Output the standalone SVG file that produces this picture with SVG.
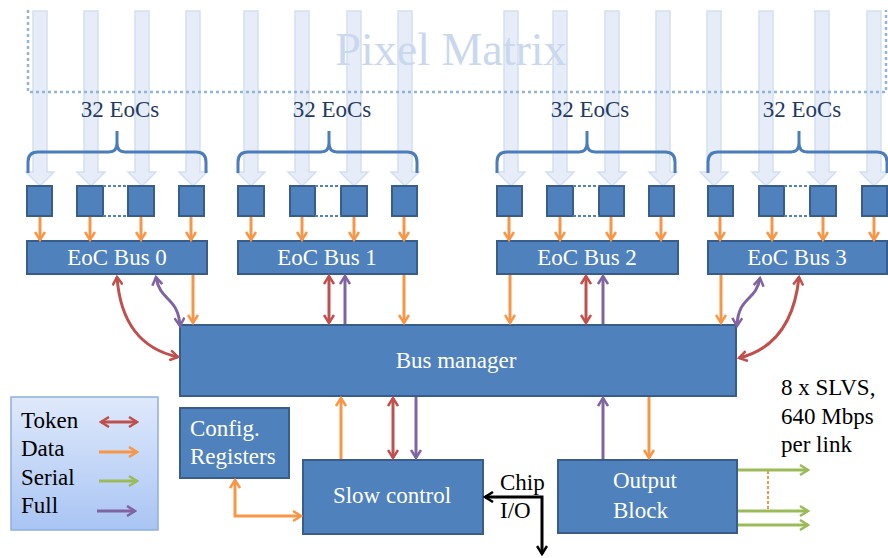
<svg xmlns="http://www.w3.org/2000/svg" width="888" height="558" viewBox="0 0 888 558">
<defs>
<style>
.box{fill:#4f81bd;stroke:#385d8a;stroke-width:2}
.wt{font-family:"Liberation Serif",serif;font-size:23px;fill:#ffffff}
.bt{font-family:"Liberation Serif",serif;font-size:23px;fill:#000000}
.nt{font-family:"Liberation Serif",serif;font-size:23px;fill:#1f3b63}
.col{fill:#e6edf8;stroke:#d3dff0;stroke-width:1.5}
.brace{fill:none;stroke:#4a7dba;stroke-width:3}
.dot{fill:none;stroke:#4f81bd;stroke-width:2;stroke-dasharray:3 2}
.o{fill:none;stroke:#f79646;stroke-width:3}
.r{fill:none;stroke:#c0504d;stroke-width:3}
.p{fill:none;stroke:#8064a2;stroke-width:3}
.g{fill:none;stroke:#9bbb59;stroke-width:3}
.k{fill:none;stroke:#000000;stroke-width:3}
.oa{marker-end:url(#mo)}
</style>
<linearGradient id="lg" x1="0" y1="0" x2="0" y2="1">
<stop offset="0" stop-color="#dfe9fb"/>
<stop offset="1" stop-color="#a9c5f4"/>
</linearGradient>
<path id="colA" d="M-7,11 H7 V172 H14 L0,186 L-14,172 H-7 Z"/>
<marker id="mo" viewBox="0 0 12 12" refX="10" refY="6" markerWidth="12" markerHeight="12" orient="auto-start-reverse" markerUnits="userSpaceOnUse"><path d="M2,1 L10,6 L2,11" fill="none" stroke="#f79646" stroke-width="2.5"/></marker>
<marker id="mr" viewBox="0 0 12 12" refX="10" refY="6" markerWidth="12" markerHeight="12" orient="auto-start-reverse" markerUnits="userSpaceOnUse"><path d="M2,1 L10,6 L2,11" fill="none" stroke="#c0504d" stroke-width="2.5"/></marker>
<marker id="mp" viewBox="0 0 12 12" refX="10" refY="6" markerWidth="12" markerHeight="12" orient="auto-start-reverse" markerUnits="userSpaceOnUse"><path d="M2,1 L10,6 L2,11" fill="none" stroke="#8064a2" stroke-width="2.5"/></marker>
<marker id="mg" viewBox="0 0 12 12" refX="10" refY="6" markerWidth="12" markerHeight="12" orient="auto-start-reverse" markerUnits="userSpaceOnUse"><path d="M2,1 L10,6 L2,11" fill="none" stroke="#9bbb59" stroke-width="2.5"/></marker>
<marker id="mk" viewBox="0 0 12 12" refX="10" refY="6" markerWidth="12" markerHeight="12" orient="auto-start-reverse" markerUnits="userSpaceOnUse"><path d="M2,1 L10,6 L2,11" fill="none" stroke="#000000" stroke-width="2.5"/></marker>
</defs>

<g id="pixel-matrix">
<g class="col">
<use href="#colA" x="40"/><use href="#colA" x="91"/><use href="#colA" x="142"/><use href="#colA" x="193"/>
<use href="#colA" x="251"/><use href="#colA" x="302"/><use href="#colA" x="354"/><use href="#colA" x="405"/>
<use href="#colA" x="511"/><use href="#colA" x="560"/><use href="#colA" x="612"/><use href="#colA" x="663"/>
<use href="#colA" x="714"/><use href="#colA" x="766"/><use href="#colA" x="822"/><use href="#colA" x="874"/>
</g>
<path d="M28,10 V92 H886 V10" fill="none" stroke="#95b3d7" stroke-width="2.5" stroke-dasharray="3 3"/>
<text x="451" y="65" text-anchor="middle" font-family="Liberation Serif, serif" font-size="46" fill="#c9d8ee">Pixel Matrix</text>
</g>

<g id="braces">
<path class="brace" d="M28,173 V162 Q28,152 38,152 H109 Q117,152 117,143 V131 M117,143 Q117,152 125,152 H196 Q206,152 206,162 V173"/>
<path class="brace" d="M238,173 V162 Q238,152 248,152 H321 Q329,152 329,143 V131 M329,143 Q329,152 337,152 H407 Q417,152 417,162 V173"/>
<path class="brace" d="M497,173 V162 Q497,152 507,152 H579 Q587,152 587,143 V131 M587,143 Q587,152 595,152 H665 Q675,152 675,162 V173"/>
<path class="brace" d="M708,173 V162 Q708,152 718,152 H791 Q799,152 799,143 V131 M799,143 Q799,152 807,152 H877 Q887,152 887,162 V173"/>
<text class="nt" x="120" y="117" text-anchor="middle">32 EoCs</text>
<text class="nt" x="332" y="117" text-anchor="middle">32 EoCs</text>
<text class="nt" x="590" y="117" text-anchor="middle">32 EoCs</text>
<text class="nt" x="802" y="117" text-anchor="middle">32 EoCs</text>
</g>

<g id="eoc-cells">
<rect class="box" x="27" y="186" width="25" height="30"/>
<rect class="box" x="77" y="186" width="26" height="30"/>
<rect class="box" x="128" y="186" width="26" height="30"/>
<rect class="box" x="179" y="186" width="25" height="30"/>
<path class="dot" d="M103,186 H128 M103,216 H128"/>
<rect class="box" x="238" y="186" width="26" height="30"/>
<rect class="box" x="290" y="186" width="25" height="30"/>
<rect class="box" x="341" y="186" width="26" height="30"/>
<rect class="box" x="392" y="186" width="25" height="30"/>
<path class="dot" d="M315,186 H341 M315,216 H341"/>
<rect class="box" x="497" y="186" width="25" height="30"/>
<rect class="box" x="547" y="186" width="26" height="30"/>
<rect class="box" x="599" y="186" width="25" height="30"/>
<rect class="box" x="649" y="186" width="25" height="30"/>
<path class="dot" d="M573,186 H599 M573,216 H599"/>
<rect class="box" x="708" y="186" width="25" height="30"/>
<rect class="box" x="759" y="186" width="25" height="30"/>
<rect class="box" x="810" y="186" width="26" height="30"/>
<rect class="box" x="862" y="186" width="25" height="30"/>
<path class="dot" d="M784,186 H810 M784,216 H810"/>
</g>

<g id="eoc-bus-0"><rect class="box" x="27" y="241" width="180" height="33"/><text class="wt" x="117" y="265" text-anchor="middle">EoC Bus 0</text></g>
<g id="eoc-bus-1"><rect class="box" x="238" y="241" width="179" height="33"/><text class="wt" x="327" y="265" text-anchor="middle">EoC Bus 1</text></g>
<g id="eoc-bus-2"><rect class="box" x="497" y="241" width="181" height="33"/><text class="wt" x="587" y="265" text-anchor="middle">EoC Bus 2</text></g>
<g id="eoc-bus-3"><rect class="box" x="708" y="241" width="179" height="33"/><text class="wt" x="797" y="265" text-anchor="middle">EoC Bus 3</text></g>

<g id="bus-manager"><rect class="box" x="180" y="325" width="556" height="71"/><text class="wt" x="456" y="368" text-anchor="middle">Bus manager</text></g>
<g id="config-registers"><rect class="box" x="180" y="408" width="109" height="70"/><text class="wt" x="190" y="436">Config.</text><text class="wt" x="190" y="464">Registers</text></g>
<g id="slow-control"><rect class="box" x="303" y="460" width="180" height="74"/><text class="wt" x="392" y="503" text-anchor="middle">Slow control</text></g>
<g id="output-block"><rect class="box" x="558" y="460" width="179" height="73"/><text class="wt" x="613" y="488">Output</text><text class="wt" x="613" y="518">Block</text></g>

<g id="legend">
<rect x="11" y="397" width="147" height="133" fill="url(#lg)" stroke="#8eaedc" stroke-width="1.5"/>
<text class="bt" x="21" y="428">Token</text>
<text class="bt" x="21" y="456">Data</text>
<text class="bt" x="21" y="485">Serial</text>
<text class="bt" x="21" y="513">Full</text>
<path class="r" d="M101,422 H137" marker-start="url(#mr)" marker-end="url(#mr)"/>
<path class="o" d="M99,452 H137" marker-end="url(#mo)"/>
<path class="g" d="M99,481 H137" marker-end="url(#mg)"/>
<path class="p" d="M97,511 H135" marker-end="url(#mp)"/>
</g>

<g id="labels">
<text class="bt" x="500" y="490">Chip</text>
<text class="bt" x="500" y="518">I/O</text>
<text class="bt" x="781" y="395">8 x SLVS,</text>
<text class="bt" x="781" y="424">640 Mbps</text>
<text class="bt" x="781" y="452">per link</text>
</g>

<g id="connectors">
<path class="o oa" d="M40,217 V240"/><path class="o oa" d="M90,217 V240"/><path class="o oa" d="M141,217 V240"/><path class="o oa" d="M191,217 V240"/>
<path class="o oa" d="M251,217 V240"/><path class="o oa" d="M302,217 V240"/><path class="o oa" d="M354,217 V240"/><path class="o oa" d="M404,217 V240"/>
<path class="o oa" d="M509,217 V240"/><path class="o oa" d="M560,217 V240"/><path class="o oa" d="M611,217 V240"/><path class="o oa" d="M661,217 V240"/>
<path class="o oa" d="M720,217 V240"/><path class="o oa" d="M772,217 V240"/><path class="o oa" d="M823,217 V240"/><path class="o oa" d="M874,217 V240"/>
<path class="o oa" d="M193,275 V323"/>
<path class="o oa" d="M404,275 V323"/>
<path class="o oa" d="M510,275 V323"/>
<path class="o oa" d="M721,275 V323"/>
<path class="r" d="M117,277 Q122,345 178,357" marker-start="url(#mr)" marker-end="url(#mr)"/>
<path class="p" d="M156,277 C160,302 178,296 180,326" marker-start="url(#mp)" marker-end="url(#mp)"/>
<path class="r" d="M799,277 Q792,345 739,358" marker-start="url(#mr)" marker-end="url(#mr)"/>
<path class="p" d="M760,278 C756,302 738,296 737,326" marker-start="url(#mp)" marker-end="url(#mp)"/>
<path class="r" d="M329,276 V323" marker-start="url(#mr)" marker-end="url(#mr)"/>
<path class="p" d="M345,324 V276" marker-end="url(#mp)"/>
<path class="r" d="M586,276 V323" marker-start="url(#mr)" marker-end="url(#mr)"/>
<path class="p" d="M603,324 V276" marker-end="url(#mp)"/>
<path class="o oa" d="M341,459 V398"/>
<path class="r" d="M393,398 V458" marker-start="url(#mr)" marker-end="url(#mr)"/>
<path class="p" d="M416,397 V458" marker-end="url(#mp)"/>
<path class="p" d="M603,459 V398" marker-end="url(#mp)"/>
<path class="o oa" d="M649,397 V458"/>
<path class="o" d="M235,480 V516 H301" marker-start="url(#mo)" marker-end="url(#mo)"/>
<path class="k" d="M542,554 V497 H485" marker-start="url(#mk)" marker-end="url(#mk)"/>
<path class="g" d="M738,470 H808" marker-end="url(#mg)"/>
<path class="g" d="M738,511 H808" marker-end="url(#mg)"/>
<path class="g" d="M738,525 H808" marker-end="url(#mg)"/>
<path d="M768,471 V510" fill="none" stroke="#f79646" stroke-width="2" stroke-dasharray="3 2"/>
</g>
</svg>
